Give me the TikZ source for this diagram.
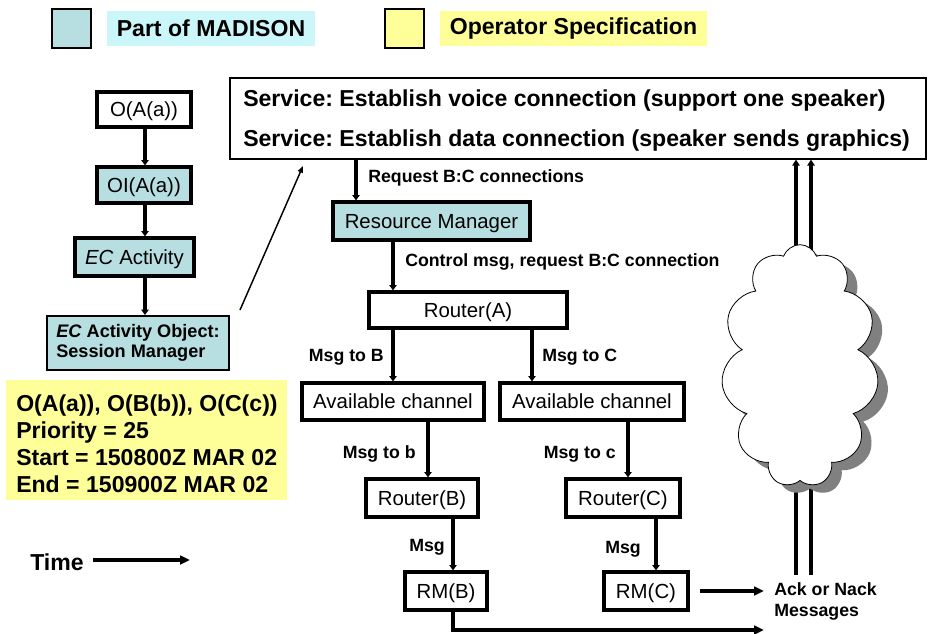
\documentclass[tikz,border=0pt]{standalone}
\usepackage{fontspec}
\setmainfont{Liberation Sans}
\usetikzlibrary{arrows.meta,shapes.symbols,calc}
\definecolor{tealc}{RGB}{183,222,224}
\definecolor{cyanc}{RGB}{204,247,250}
\definecolor{yelc}{RGB}{255,255,153}
\definecolor{shadowc}{RGB}{128,128,128}
\newcommand\fBig{\bfseries\fontsize{17.3}{20.25}\selectfont}
\newcommand\fSmall{\bfseries\fontsize{13.3}{15.75}\selectfont}
\newcommand\fReg{\fontsize{15.3}{18}\selectfont}
\newcommand\fObj{\bfseries\fontsize{13.6}{15}\selectfont}
\newcommand\mybox[7]{\node[flowbox,#6,minimum width={(#4-#2)*0.75pt},minimum height={(#5-#3)*0.75pt}] (#1) at ({(#2+#4)/2},{(#3+#5)/2}) {#7};}
\frenchspacing
\begin{document}
\begin{tikzpicture}[x=0.75pt,y=-0.75pt,
  flowbox/.style={draw,line width=2.45pt,inner sep=0pt,font=\fReg,text height=14pt,text depth=3pt},
  lbl/.style={font=\fSmall,inner sep=0pt},
  flowarr/.style={draw,line width=2.4pt,-{Triangle[length=4pt,width=5.5pt]}},
  bigarr/.style={draw,line width=2.4pt,-{Triangle[length=7.5pt,width=6.5pt]}},
  cloudarr/.style={draw,line width=3pt,-{Triangle[length=4.5pt,width=5.5pt]}},
  thinarr/.style={draw,line width=1.1pt,-{Triangle[length=5pt,width=4pt]}},
  cloudsty/.style={cloud,cloud puffs=11,cloud puff arc=140,cloud ignores aspect,minimum width=118pt,minimum height=182pt,inner sep=0pt}]
\useasboundingbox (0,0) rectangle (928,634);
% legend
\node[draw,line width=1pt,fill=tealc,minimum width=29.25pt,minimum height=29.25pt,inner sep=0pt] (lgt) at (71.5,28.5) {};
\node[fill=cyanc,minimum width=156pt,minimum height=26.25pt,inner sep=0pt,font=\fBig] (lgtl) at (211,28.5) {Part of MADISON};
\node[draw,line width=1pt,fill=yelc,minimum width=29.25pt,minimum height=29.25pt,inner sep=0pt] (lgy) at (404.5,28.5) {};
\node[fill=yelc,minimum width=200.25pt,minimum height=26.25pt,inner sep=0pt,font=\fBig] (lgyl) at (573.5,28.5) {Operator Specification};
% left column
\mybox{oaa}{97}{92}{191}{127}{fill=white}{O(A(a))}
\mybox{oia}{97}{167}{191}{203}{fill=tealc}{OI(A(a))}
\mybox{eca}{75}{238}{194}{276}{fill=tealc}{\textit{EC} Activity}
\node[draw,line width=1.5pt,fill=tealc,font=\fObj,align=left,inner sep=0pt,minimum width=136.5pt,minimum height=40.5pt] (ecao) at (138,343) {\textit{EC} Activity Object:\\Session Manager};
\coordinate (colx) at (145,0);
\path[flowarr] (colx |- oaa.south) -- (colx |- oia.north);
\path[flowarr] (colx |- oia.south) -- (colx |- eca.north);
\path[flowarr] (colx |- eca.south) -- (colx |- ecao.north);
% operator spec
\node[fill=yelc,minimum width=210.75pt,minimum height=90pt,inner sep=0pt] (spec) at (146.5,440) {};
\node[anchor=west,align=left,font=\fBig,inner sep=0pt] (spect) at (16,444) {O(A(a)), O(B(b)), O(C(c))\\Priority = 25\\Start = 150800Z MAR 02\\End = 150900Z MAR 02};
% time
\node[anchor=west,font=\fBig,inner sep=0pt] (time) at (30,562) {Time};
\coordinate (timeend) at (190,560);
\path[bigarr] ([xshift=6.75pt]time.east |- timeend) -- (timeend);
% service box
\node[draw,line width=0.9pt,fill=white,minimum width=522pt,minimum height=60.75pt,inner sep=0pt] (svc) at (578,118.5) {};
\node[anchor=west,font=\fBig,inner sep=0pt] (s1) at (243,101) {Service: Establish voice connection (support one speaker)};
\node[anchor=west,font=\fBig,inner sep=0pt] (s2) at (243,141) {Service: Establish data connection (speaker sends graphics)};
\coordinate (dg1) at (240,310);
\coordinate (dg2) at (303,166);
\path[thinarr] (dg1) -- (dg2);
% cloud lines
\coordinate (cl1) at (796,575);
\coordinate (cl2) at (811,575);
\path[cloudarr] (cl1) -- (cl1 |- svc.south);
\path[cloudarr] (cl2) -- (cl2 |- svc.south);
% cloud
\node[cloudsty,fill=shadowc] (cloudsh) at (810,374) {};
\node[cloudsty,draw,line width=0.6pt,fill=white] (cloud) at (800,366) {};
% main flow
\mybox{rm}{333}{202}{530}{240}{fill=tealc}{Resource Manager}
\mybox{ra}{369}{292}{567}{328}{fill=white}{Router(A)}
\mybox{acl}{302}{383}{484}{420}{fill=white}{Available channel}
\mybox{acr}{500}{383}{684}{420}{fill=white}{Available channel}
\mybox{rb}{366}{479}{478}{517}{fill=white}{Router(B)}
\mybox{rc}{566}{479}{680}{517}{fill=white}{Router(C)}
\mybox{rmb}{405}{572}{487}{610}{fill=white}{RM(B)}
\mybox{rmc}{604}{572}{688}{610}{fill=white}{RM(C)}
\coordinate (xa) at (356,0);
\coordinate (xb) at (393,0);
\coordinate (xc) at (532,0);
\coordinate (xd) at (428,0);
\coordinate (xe) at (628,0);
\coordinate (xf) at (453,0);
\coordinate (xg) at (656,0);
\path[flowarr] (xa |- svc.south) -- (xa |- rm.north);
\path[flowarr] (xb |- rm.south) -- (xb |- ra.north);
\path[flowarr] (xb |- ra.south) -- (xb |- acl.north);
\path[flowarr] (xc |- ra.south) -- (xc |- acr.north);
\path[flowarr] (xd |- acl.south) -- (xd |- rb.north);
\path[flowarr] (xe |- acr.south) -- (xe |- rc.north);
\path[flowarr] (xf |- rb.south) -- (xf |- rmb.north);
\path[flowarr] (xg |- rc.south) -- (xg |- rmc.north);
\node[lbl,anchor=west] (l1) at (368,178) {Request B:C connections};
\node[lbl,anchor=west] (l2) at (405,262) {Control msg, request B:C connection};
\node[lbl,anchor=east] (l3) at (384,357) {Msg to B};
\node[lbl,anchor=west] (l4) at (542,357) {Msg to C};
\node[lbl,anchor=east] (l5) at (416,454) {Msg to b};
\node[lbl,anchor=east] (l6) at (616,454) {Msg to c};
\node[lbl,anchor=east] (l7) at (445,547) {Msg};
\node[lbl,anchor=east] (l8) at (641,549) {Msg};
% ack
\node[lbl,anchor=north west,align=left] (ack) at (774,582) {Ack or Nack\\Messages};
\coordinate (ackend) at (764,0);
\path[bigarr] ([xshift=7.5pt]rmc.east) -- (ackend |- rmc.east);
\coordinate (bot) at (764,630);
\path[bigarr] (xf |- rmb.south) -- (xf |- bot) -- (bot);
\end{tikzpicture}
\end{document}
